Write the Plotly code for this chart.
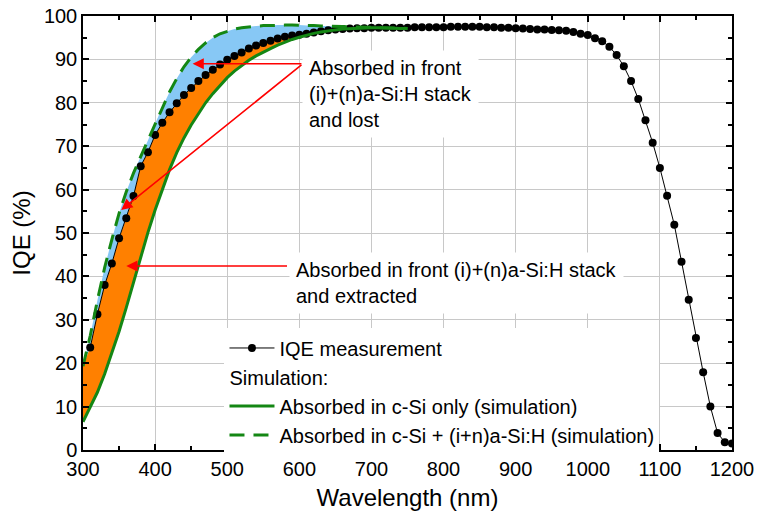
import numpy as np
import plotly.graph_objects as go

# ---------------- data ----------------
iqe_wl = list(range(310, 1201, 10))
iqe_val = [23.6, 31.3, 38.0, 43.0, 48.8, 53.4, 58.5, 65.4, 68.6, 72.6,
           75.4, 77.8, 79.9, 81.8, 83.4, 85.0, 86.4, 87.6, 88.8, 89.9,
           90.8, 91.6, 92.5, 93.2, 93.8, 94.3, 94.8, 95.2, 95.5, 95.7,
           95.9, 96.2, 96.5, 96.7, 96.9, 97.0, 97.1, 97.2, 97.2, 97.3,
           97.3, 97.3, 97.3, 97.3, 97.3, 97.4, 97.4, 97.4, 97.4, 97.4,
           97.5, 97.5, 97.5, 97.5, 97.5, 97.4, 97.4, 97.3, 97.3, 97.2,
           97.1, 97.0, 96.9, 96.9, 96.8, 96.7, 96.6, 96.3, 95.9, 95.6,
           94.9, 94.2, 92.9, 91.0, 88.4, 85.0, 80.9, 76.0, 70.8, 65.0,
           58.6, 51.9, 43.4, 34.6, 25.8, 17.9, 10.0, 3.9, 1.8, 1.5]

sim_wl = list(range(300, 751, 10))
sim_csi = [6.5, 9.8, 13.3, 17.5, 22.2, 27.3, 32.8, 38.6, 44.5, 50.1,
           55.3, 60.2, 64.6, 68.5, 71.9, 74.9, 77.6, 80.0, 82.1, 84.0,
           85.8, 87.3, 88.6, 89.8, 90.8, 91.7, 92.5, 93.3, 94.0, 94.6,
           95.1, 95.6, 96.0, 96.3, 96.6, 96.8, 97.0, 97.1, 97.2, 97.3,
           97.3, 97.3, 97.3, 97.2, 97.1, 97.1]
sim_csi_asi = [19.3, 26.3, 34.5, 42.0, 48.5, 54.5, 59.5, 63.8, 67.6, 71.3,
               75.2, 79.0, 82.5, 85.6, 88.3, 90.5, 92.3, 93.8, 95.0, 95.9,
               96.5, 97.0, 97.3, 97.5, 97.7, 97.8, 97.8, 97.9, 97.9, 97.9,
               97.9, 97.8, 97.8, 97.7, 97.7, 97.6, 97.6, 97.5, 97.5, 97.4,
               97.4, 97.3, 97.3, 97.2, 97.2, 97.1]

x_ticks = list(range(300, 1201, 100))
y_ticks = list(range(0, 101, 10))

FONT = "Liberation Sans, Arial, sans-serif"
GREEN = "rgb(20,135,20)"

# ---------------- fill polygons built from the arrays ----------------
iw = np.array(iqe_wl); iv = np.array(iqe_val)
sw = np.array(sim_wl); s1 = np.array(sim_csi); s2 = np.array(sim_csi_asi)

m_or_s = sw <= 620
m_or_i = iw <= 620
orange_x = np.concatenate([sw[m_or_s], iw[m_or_i][::-1], sw[:1]])
orange_y = np.concatenate([s1[m_or_s], iv[m_or_i][::-1], s2[:1]])

m_bl_s = sw <= 700
m_bl_i = iw <= 700
blue_x = np.concatenate([sw[m_bl_s], iw[m_bl_i][::-1]])
blue_y = np.concatenate([s2[m_bl_s], iv[m_bl_i][::-1]])

fig = go.Figure()
fig.add_trace(go.Scatter(x=blue_x, y=blue_y, fill="toself", mode="none",
                         fillcolor="rgb(135,200,245)", showlegend=False, hoverinfo="skip"))
fig.add_trace(go.Scatter(x=orange_x, y=orange_y, fill="toself", mode="none",
                         fillcolor="rgb(255,128,0)", showlegend=False, hoverinfo="skip"))

fig.add_trace(go.Scatter(x=iqe_wl, y=iqe_val, mode="lines+markers", name="IQE measurement",
                         line=dict(color="black", width=1),
                         marker=dict(color="black", size=8), legendgroup="meas"))
fig.add_trace(go.Scatter(x=sim_wl, y=sim_csi, mode="lines",
                         name="Absorbed in c-Si only (simulation)",
                         line=dict(color=GREEN, width=3), legendgroup="sim",
                         legendgrouptitle=dict(text="Simulation:", font=dict(size=20, family=FONT, color="black"))))
fig.add_trace(go.Scatter(x=sim_wl, y=sim_csi_asi, mode="lines",
                         name="Absorbed in c-Si + (i+n)a-Si:H (simulation)",
                         line=dict(color=GREEN, width=3, dash="15px,9px"), legendgroup="sim"))

# ---------------- annotations ----------------
arrow = dict(showarrow=True, arrowhead=2, arrowsize=1.4, arrowwidth=1.6, arrowcolor="red",
             axref="x", ayref="y", xref="x", yref="y", text="")
fig.add_annotation(x=452, y=89.0, ax=605, ay=89.0, **arrow)
fig.add_annotation(x=353, y=55.3, ax=605, ay=89.0, **arrow)
fig.add_annotation(x=360, y=42.4, ax=585, ay=42.4, **arrow)

fig.add_annotation(x=604, y=82.1, xref="x", yref="y", xanchor="left", yanchor="middle",
                   text="Absorbed in front<br>(i)+(n)a-Si:H stack<br>and lost", align="left",
                   showarrow=False, bgcolor="white", borderpad=6,
                   font=dict(size=20, family=FONT, color="black"))
fig.add_annotation(x=586, y=38.4, xref="x", yref="y", xanchor="left", yanchor="middle",
                   text="Absorbed in front (i)+(n)a-Si:H stack<br>and extracted", align="left",
                   showarrow=False, bgcolor="white", borderpad=6,
                   font=dict(size=20, family=FONT, color="black"))

axis_common = dict(showline=True, linecolor="black", linewidth=1.5, mirror="allticks",
                   ticks="inside", ticklen=6, tickwidth=1.5, tickcolor="black",
                   showgrid=True, gridcolor="rgb(200,200,200)", gridwidth=1,
                   zeroline=False, automargin=False,
                   tickfont=dict(size=20, family=FONT, color="black"))

fig.update_xaxes(range=[300, 1200], tickvals=x_ticks,
                 minor=dict(ticks="inside", ticklen=4, dtick=50, tickcolor="black", showgrid=False),
                 title=dict(text="Wavelength (nm)", font=dict(size=24, family=FONT, color="black"), standoff=10),
                 **axis_common)
fig.update_yaxes(range=[0, 100], tickvals=y_ticks,
                 minor=dict(ticks="inside", ticklen=4, dtick=5, tickcolor="black", showgrid=False),
                 title=dict(text="IQE (%)", font=dict(size=24, family=FONT, color="black"), standoff=6),
                 **axis_common)

fig.update_layout(
    width=758, height=517,
    margin=dict(l=83, r=26, t=16, b=67),
    paper_bgcolor="white", plot_bgcolor="white",
    font=dict(family=FONT, color="black"),
    legend=dict(x=0.218, y=0.28, xanchor="left", yanchor="top", bgcolor="white",
                borderwidth=0, font=dict(size=20, family=FONT, color="black"),
                itemwidth=45, tracegroupgap=0, traceorder="grouped"),
)

fig.write_html("out.html", config={"displayModeBar": False},
               post_script="document.body.style.margin='0';document.body.style.overflow='hidden';")
